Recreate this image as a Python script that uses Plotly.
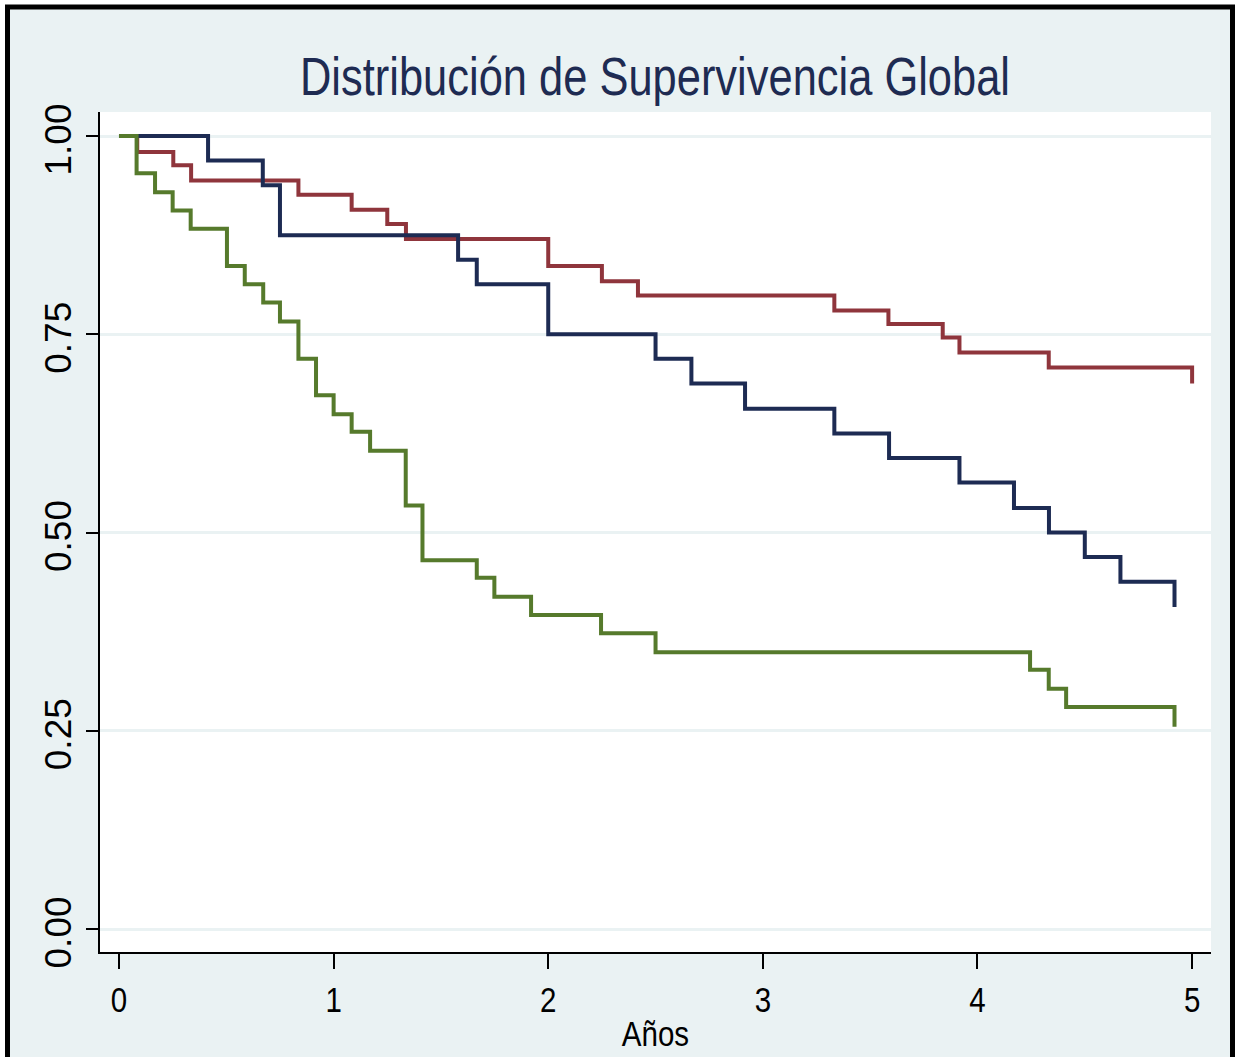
import plotly.graph_objects as go

# Kaplan-Meier step data (time in years, survival)
blue_t = [0, 0.415, 0.67, 0.75, 1.58, 1.667, 2.0, 2.5, 2.667, 2.917, 3.333, 3.588, 3.916, 4.17, 4.333, 4.5, 4.666, 4.918]
blue_s = [1.0, 0.969, 0.938, 0.875, 0.844, 0.813, 0.75, 0.719, 0.688, 0.656, 0.625, 0.594, 0.563, 0.531, 0.5, 0.469, 0.438, 0.406]

red_t = [0, 0.085, 0.253, 0.336, 0.836, 1.084, 1.25, 1.337, 2.0, 2.25, 2.418, 3.333, 3.585, 3.838, 3.916, 4.332, 5.0]
red_s = [1.0, 0.980, 0.963, 0.944, 0.926, 0.907, 0.889, 0.870, 0.836, 0.817, 0.799, 0.780, 0.763, 0.746, 0.727, 0.708, 0.688]

green_t = [0, 0.082, 0.168, 0.25, 0.334, 0.503, 0.586, 0.672, 0.75, 0.836, 0.918, 1.0, 1.084, 1.17, 1.336, 1.414, 1.667, 1.749, 1.92, 2.246, 2.5, 4.245, 4.332, 4.413, 4.918]
green_s = [1.0, 0.953, 0.929, 0.906, 0.883, 0.836, 0.813, 0.790, 0.766, 0.719, 0.673, 0.649, 0.627, 0.603, 0.534, 0.465, 0.443, 0.419, 0.396, 0.373, 0.349, 0.327, 0.303, 0.280, 0.255]

x_ticks = [0, 1, 2, 3, 4, 5]
y_ticks = [0, 0.25, 0.5, 0.75, 1.0]
y_ticklabels = ["0.00", "0.25", "0.50", "0.75", "1.00"]

title_text = "Distribución de Supervivencia Global"
x_title = "Años"

BG = "#EAF2F3"
FONT = "Liberation Sans, Arial, sans-serif"

fig = go.Figure()
for t, s, c in [(red_t, red_s, "#8f353c"), (blue_t, blue_s, "#1d2b53"), (green_t, green_s, "#567a2c")]:
    fig.add_trace(go.Scatter(x=t, y=s, mode="lines", line=dict(shape="hv", color=c, width=4),
                             showlegend=False, hoverinfo="skip"))

W, H = 1236, 1057
L, R, T, B = 100, 1211, 112, 952
pw, ph = R - L, B - T

def px_x(p):
    return (p - L) / pw

def px_y(p):
    return (B - p) / ph

fig.update_layout(
    width=W, height=H,
    margin=dict(l=L, r=W - R, t=T, b=H - B, autoexpand=False),
    paper_bgcolor=BG,
    plot_bgcolor="white",
    title=dict(text=title_text, x=655 / W, xanchor="center", y=1 - 76 / H, yanchor="middle",
               font=dict(family=FONT, size=53, color="#1e2b52")),
    xaxis=dict(range=[-0.0885, 5.088], tickvals=x_ticks, ticktext=[str(v) for v in x_ticks],
               showgrid=False, zeroline=False, showline=True, linecolor="black", linewidth=2,
               ticks="outside", ticklen=15, tickwidth=1.5, tickcolor="black",
               tickfont=dict(family=FONT, size=36, color="black"),
               title=dict(text=x_title, font=dict(family=FONT, size=36, color="black"), standoff=2)),
    yaxis=dict(range=[-0.029, 1.0303], tickvals=y_ticks, ticktext=y_ticklabels, tickangle=-90,
               ticklabelshift=9,
               showgrid=True, gridcolor=BG, gridwidth=3, zeroline=False,
               showline=True, linecolor="black", linewidth=1.5,
               ticks="outside", ticklen=12, tickwidth=1.5, tickcolor="black",
               tickfont=dict(family=FONT, size=37, color="black")),
    shapes=[
        dict(type="rect", xref="paper", yref="paper", x0=px_x(2.5), x1=px_x(W - 0.5), y0=px_y(1075), y1=px_y(2.5),
             line=dict(color="white", width=5), fillcolor="rgba(0,0,0,0)", layer="above"),
        dict(type="rect", xref="paper", yref="paper", x0=px_x(7.5), x1=px_x(1232.5), y0=px_y(1070), y1=px_y(7),
             line=dict(color="black", width=5), fillcolor="rgba(0,0,0,0)", layer="above"),
    ],
)

post = """
document.body.style.margin = '0';
document.body.style.padding = '0';
var gd = document.getElementById('{plot_id}');
function sx(el, k) {
  var x = parseFloat(el.getAttribute('x')) || 0;
  var t = el.getAttribute('transform') || '';
  el.setAttribute('transform', t + ' translate(' + x + ',0) scale(' + k + ',1) translate(' + (-x) + ',0)');
}
gd.querySelectorAll('.gtitle, .xtitle, .xtick text').forEach(function (el) { sx(el, 0.82); });
"""

fig.write_html("out.html", post_script=post, config={"displayModeBar": False})
